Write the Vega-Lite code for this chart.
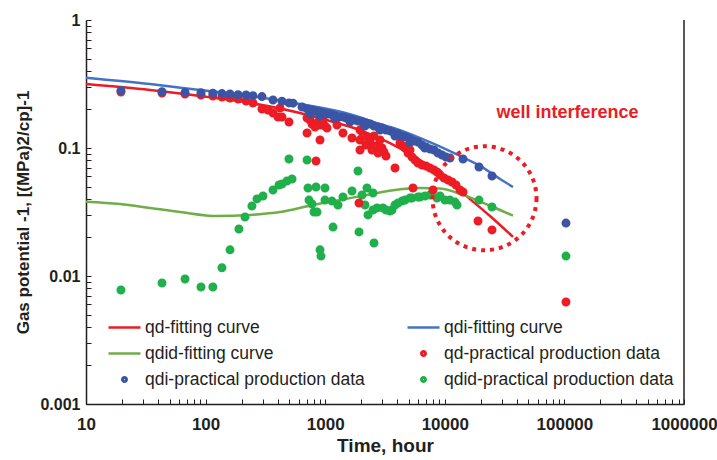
{
  "$schema": "https://vega.github.io/schema/vega-lite/v6.json",
  "width": 598,
  "height": 384,
  "autosize": {"type": "none"},
  "padding": {"left": 86, "top": 20, "right": 33, "bottom": 56},
  "background": "white",
  "view": {"stroke": null},
  "config": {
    "font": "Liberation Sans",
    "axis": {"grid": false},
    "legend": {
      "orient": "none",
      "legendX": 21,
      "legendY": 290,
      "columns": 2,
      "title": null,
      "labelFont": "Liberation Sans",
      "labelFontSize": 17.5,
      "labelColor": "#231f20",
      "labelLimit": 400,
      "labelOffset": 3,
      "symbolSize": 1024,
      "symbolStrokeWidth": 2.5,
      "columnPadding": 37,
      "rowPadding": -1
    }
  },
  "datasets": {
    "curves": [
      {"t": 10, "q": 0.354, "s": "qdi-fitting curve"},
      {"t": 34.3, "q": 0.316, "s": "qdi-fitting curve"},
      {"t": 89.8, "q": 0.284, "s": "qdi-fitting curve"},
      {"t": 235, "q": 0.255, "s": "qdi-fitting curve"},
      {"t": 615, "q": 0.221, "s": "qdi-fitting curve"},
      {"t": 1611, "q": 0.184, "s": "qdi-fitting curve"},
      {"t": 2871, "q": 0.154, "s": "qdi-fitting curve"},
      {"t": 4217, "q": 0.138, "s": "qdi-fitting curve"},
      {"t": 7516, "q": 0.111, "s": "qdi-fitting curve"},
      {"t": 13400, "q": 0.0866, "s": "qdi-fitting curve"},
      {"t": 19690, "q": 0.0724, "s": "qdi-fitting curve"},
      {"t": 28950, "q": 0.0573, "s": "qdi-fitting curve"},
      {"t": 37180, "q": 0.0496, "s": "qdi-fitting curve"},
      {"t": 10, "q": 0.316, "s": "qd-fitting curve"},
      {"t": 34.3, "q": 0.284, "s": "qd-fitting curve"},
      {"t": 89.8, "q": 0.255, "s": "qd-fitting curve"},
      {"t": 235, "q": 0.225, "s": "qd-fitting curve"},
      {"t": 615, "q": 0.1877, "s": "qd-fitting curve"},
      {"t": 1096, "q": 0.1625, "s": "qd-fitting curve"},
      {"t": 1954, "q": 0.138, "s": "qd-fitting curve"},
      {"t": 3483, "q": 0.1094, "s": "qd-fitting curve"},
      {"t": 6209, "q": 0.0806, "s": "qd-fitting curve"},
      {"t": 10050, "q": 0.0583, "s": "qd-fitting curve"},
      {"t": 14760, "q": 0.043, "s": "qd-fitting curve"},
      {"t": 23880, "q": 0.0294, "s": "qd-fitting curve"},
      {"t": 37180, "q": 0.0202, "s": "qd-fitting curve"},
      {"t": 10, "q": 0.0381, "s": "qdid-fitting curve"},
      {"t": 19.2, "q": 0.0365, "s": "qdid-fitting curve"},
      {"t": 34.3, "q": 0.034, "s": "qdid-fitting curve"},
      {"t": 61.1, "q": 0.0316, "s": "qdid-fitting curve"},
      {"t": 124.5, "q": 0.0294, "s": "qdid-fitting curve"},
      {"t": 235, "q": 0.0300, "s": "qdid-fitting curve"},
      {"t": 419, "q": 0.0316, "s": "qdid-fitting curve"},
      {"t": 791, "q": 0.0359, "s": "qdid-fitting curve"},
      {"t": 1330, "q": 0.0392, "s": "qdid-fitting curve"},
      {"t": 2234, "q": 0.043, "s": "qdid-fitting curve"},
      {"t": 3837, "q": 0.047, "s": "qdid-fitting curve"},
      {"t": 6209, "q": 0.0487, "s": "qdid-fitting curve"},
      {"t": 9120, "q": 0.0483, "s": "qdid-fitting curve"},
      {"t": 14190, "q": 0.043, "s": "qdid-fitting curve"},
      {"t": 25290, "q": 0.0346, "s": "qdid-fitting curve"},
      {"t": 37180, "q": 0.0296, "s": "qdid-fitting curve"}
    ],
    "points": [
      {"t": 19.6, "q": 0.00777, "s": "qdid-practical production data"},
      {"t": 43.2, "q": 0.00882, "s": "qdid-practical production data"},
      {"t": 67.3, "q": 0.00947, "s": "qdid-practical production data"},
      {"t": 91.5, "q": 0.0082, "s": "qdid-practical production data"},
      {"t": 115, "q": 0.0082, "s": "qdid-practical production data"},
      {"t": 137, "q": 0.0116, "s": "qdid-practical production data"},
      {"t": 160, "q": 0.016, "s": "qdid-practical production data"},
      {"t": 190, "q": 0.0233, "s": "qdid-practical production data"},
      {"t": 213.5, "q": 0.0289, "s": "qdid-practical production data"},
      {"t": 244, "q": 0.0352, "s": "qdid-practical production data"},
      {"t": 269, "q": 0.040, "s": "qdid-practical production data"},
      {"t": 302, "q": 0.0422, "s": "qdid-practical production data"},
      {"t": 366, "q": 0.047, "s": "qdid-practical production data"},
      {"t": 411, "q": 0.0514, "s": "qdid-practical production data"},
      {"t": 435, "q": 0.0523, "s": "qdid-practical production data"},
      {"t": 479, "q": 0.0552, "s": "qdid-practical production data"},
      {"t": 528, "q": 0.0573, "s": "qdid-practical production data"},
      {"t": 498, "q": 0.082, "s": "qdid-practical production data"},
      {"t": 705, "q": 0.0806, "s": "qdid-practical production data"},
      {"t": 718, "q": 0.0487, "s": "qdid-practical production data"},
      {"t": 838, "q": 0.0496, "s": "qdid-practical production data"},
      {"t": 996, "q": 0.0487, "s": "qdid-practical production data"},
      {"t": 732, "q": 0.0392, "s": "qdid-practical production data"},
      {"t": 776, "q": 0.0365, "s": "qdid-practical production data"},
      {"t": 806, "q": 0.0316, "s": "qdid-practical production data"},
      {"t": 854, "q": 0.0316, "s": "qdid-practical production data"},
      {"t": 996, "q": 0.0392, "s": "qdid-practical production data"},
      {"t": 1140, "q": 0.0385, "s": "qdid-practical production data"},
      {"t": 1279, "q": 0.0359, "s": "qdid-practical production data"},
      {"t": 1408, "q": 0.0414, "s": "qdid-practical production data"},
      {"t": 1675, "q": 0.0461, "s": "qdid-practical production data"},
      {"t": 1880, "q": 0.0661, "s": "qdid-practical production data"},
      {"t": 1162, "q": 0.0241, "s": "qdid-practical production data"},
      {"t": 905, "q": 0.016, "s": "qdid-practical production data"},
      {"t": 922, "q": 0.0143, "s": "qdid-practical production data"},
      {"t": 1917, "q": 0.0221, "s": "qdid-practical production data"},
      {"t": 2559, "q": 0.0181, "s": "qdid-practical production data"},
      {"t": 2031, "q": 0.0429, "s": "qdid-practical production data"},
      {"t": 2236, "q": 0.0487, "s": "qdid-practical production data"},
      {"t": 2510, "q": 0.0445, "s": "qdid-practical production data"},
      {"t": 2151, "q": 0.0359, "s": "qdid-practical production data"},
      {"t": 2280, "q": 0.030, "s": "qdid-practical production data"},
      {"t": 2510, "q": 0.0328, "s": "qdid-practical production data"},
      {"t": 2711, "q": 0.034, "s": "qdid-practical production data"},
      {"t": 3043, "q": 0.034, "s": "qdid-practical production data"},
      {"t": 3224, "q": 0.0328, "s": "qdid-practical production data"},
      {"t": 3482, "q": 0.0322, "s": "qdid-practical production data"},
      {"t": 3618, "q": 0.0328, "s": "qdid-practical production data"},
      {"t": 3834, "q": 0.0359, "s": "qdid-practical production data"},
      {"t": 4062, "q": 0.0372, "s": "qdid-practical production data"},
      {"t": 4386, "q": 0.0385, "s": "qdid-practical production data"},
      {"t": 4648, "q": 0.0392, "s": "qdid-practical production data"},
      {"t": 5117, "q": 0.0407, "s": "qdid-practical production data"},
      {"t": 5318, "q": 0.0407, "s": "qdid-practical production data"},
      {"t": 5968, "q": 0.0414, "s": "qdid-practical production data"},
      {"t": 6203, "q": 0.0414, "s": "qdid-practical production data"},
      {"t": 6830, "q": 0.0422, "s": "qdid-practical production data"},
      {"t": 7521, "q": 0.0429, "s": "qdid-practical production data"},
      {"t": 8605, "q": 0.0407, "s": "qdid-practical production data"},
      {"t": 9119, "q": 0.0422, "s": "qdid-practical production data"},
      {"t": 10040, "q": 0.0392, "s": "qdid-practical production data"},
      {"t": 11050, "q": 0.0392, "s": "qdid-practical production data"},
      {"t": 12170, "q": 0.0378, "s": "qdid-practical production data"},
      {"t": 12650, "q": 0.0359, "s": "qdid-practical production data"},
      {"t": 19320, "q": 0.0392, "s": "qdid-practical production data"},
      {"t": 24810, "q": 0.0346, "s": "qdid-practical production data"},
      {"t": 103100, "q": 0.0143, "s": "qdid-practical production data"},
      {"t": 19.6, "q": 0.274, "s": "qd-practical production data"},
      {"t": 43.2, "q": 0.269, "s": "qd-practical production data"},
      {"t": 67.3, "q": 0.264, "s": "qd-practical production data"},
      {"t": 91.5, "q": 0.2595, "s": "qd-practical production data"},
      {"t": 115, "q": 0.255, "s": "qd-practical production data"},
      {"t": 137, "q": 0.25, "s": "qd-practical production data"},
      {"t": 160, "q": 0.246, "s": "qd-practical production data"},
      {"t": 187, "q": 0.2415, "s": "qd-practical production data"},
      {"t": 218, "q": 0.233, "s": "qd-practical production data"},
      {"t": 249, "q": 0.2246, "s": "qd-practical production data"},
      {"t": 296, "q": 0.2017, "s": "qd-practical production data"},
      {"t": 332, "q": 0.198, "s": "qd-practical production data"},
      {"t": 366, "q": 0.1877, "s": "qd-practical production data"},
      {"t": 419, "q": 0.2054, "s": "qd-practical production data"},
      {"t": 403, "q": 0.1747, "s": "qd-practical production data"},
      {"t": 435, "q": 0.1747, "s": "qd-practical production data"},
      {"t": 498, "q": 0.1596, "s": "qd-practical production data"},
      {"t": 705, "q": 0.131, "s": "qd-practical production data"},
      {"t": 905, "q": 0.1155, "s": "qd-practical production data"},
      {"t": 838, "q": 0.0791, "s": "qd-practical production data"},
      {"t": 705, "q": 0.1715, "s": "qd-practical production data"},
      {"t": 746, "q": 0.1655, "s": "qd-practical production data"},
      {"t": 776, "q": 0.154, "s": "qd-practical production data"},
      {"t": 822, "q": 0.1459, "s": "qd-practical production data"},
      {"t": 871, "q": 0.1596, "s": "qd-practical production data"},
      {"t": 905, "q": 0.1512, "s": "qd-practical production data"},
      {"t": 958, "q": 0.1655, "s": "qd-practical production data"},
      {"t": 996, "q": 0.1485, "s": "qd-practical production data"},
      {"t": 1035, "q": 0.1433, "s": "qd-practical production data"},
      {"t": 1255, "q": 0.1512, "s": "qd-practical production data"},
      {"t": 1408, "q": 0.131, "s": "qd-practical production data"},
      {"t": 1675, "q": 0.1197, "s": "qd-practical production data"},
      {"t": 1954, "q": 0.1382, "s": "qd-practical production data"},
      {"t": 1954, "q": 0.1155, "s": "qd-practical production data"},
      {"t": 1954, "q": 0.0965, "s": "qd-practical production data"},
      {"t": 2070, "q": 0.1264, "s": "qd-practical production data"},
      {"t": 2193, "q": 0.1055, "s": "qd-practical production data"},
      {"t": 2280, "q": 0.1197, "s": "qd-practical production data"},
      {"t": 2369, "q": 0.1114, "s": "qd-practical production data"},
      {"t": 2462, "q": 0.0965, "s": "qd-practical production data"},
      {"t": 2559, "q": 0.1241, "s": "qd-practical production data"},
      {"t": 2659, "q": 0.1036, "s": "qd-practical production data"},
      {"t": 2764, "q": 0.0914, "s": "qd-practical production data"},
      {"t": 2872, "q": 0.1155, "s": "qd-practical production data"},
      {"t": 2985, "q": 0.100, "s": "qd-practical production data"},
      {"t": 3101, "q": 0.0931, "s": "qd-practical production data"},
      {"t": 3224, "q": 0.0866, "s": "qd-practical production data"},
      {"t": 3834, "q": 0.0698, "s": "qd-practical production data"},
      {"t": 4221, "q": 0.1094, "s": "qd-practical production data"},
      {"t": 4472, "q": 0.1036, "s": "qd-practical production data"},
      {"t": 4648, "q": 0.100, "s": "qd-practical production data"},
      {"t": 4924, "q": 0.0914, "s": "qd-practical production data"},
      {"t": 5117, "q": 0.0965, "s": "qd-practical production data"},
      {"t": 5318, "q": 0.0851, "s": "qd-practical production data"},
      {"t": 5634, "q": 0.0806, "s": "qd-practical production data"},
      {"t": 5968, "q": 0.0763, "s": "qd-practical production data"},
      {"t": 6447, "q": 0.0736, "s": "qd-practical production data"},
      {"t": 6964, "q": 0.0724, "s": "qd-practical production data"},
      {"t": 7521, "q": 0.0698, "s": "qd-practical production data"},
      {"t": 8123, "q": 0.0673, "s": "qd-practical production data"},
      {"t": 8605, "q": 0.0649, "s": "qd-practical production data"},
      {"t": 9119, "q": 0.0615, "s": "qd-practical production data"},
      {"t": 9846, "q": 0.0583, "s": "qd-practical production data"},
      {"t": 10640, "q": 0.0562, "s": "qd-practical production data"},
      {"t": 11490, "q": 0.0543, "s": "qd-practical production data"},
      {"t": 12400, "q": 0.0514, "s": "qd-practical production data"},
      {"t": 13400, "q": 0.047, "s": "qd-practical production data"},
      {"t": 14200, "q": 0.0453, "s": "qd-practical production data"},
      {"t": 5420, "q": 0.0487, "s": "qd-practical production data"},
      {"t": 7968, "q": 0.047, "s": "qd-practical production data"},
      {"t": 1917, "q": 0.0372, "s": "qd-practical production data"},
      {"t": 18950, "q": 0.0269, "s": "qd-practical production data"},
      {"t": 24810, "q": 0.0229, "s": "qd-practical production data"},
      {"t": 103100, "q": 0.00626, "s": "qd-practical production data"},
      {"t": 19.6, "q": 0.281, "s": "qdi-practical production data"},
      {"t": 43.2, "q": 0.275, "s": "qdi-practical production data"},
      {"t": 67.3, "q": 0.272, "s": "qdi-practical production data"},
      {"t": 91.5, "q": 0.270, "s": "qdi-practical production data"},
      {"t": 115, "q": 0.268, "s": "qdi-practical production data"},
      {"t": 137, "q": 0.266, "s": "qdi-practical production data"},
      {"t": 160, "q": 0.264, "s": "qdi-practical production data"},
      {"t": 187, "q": 0.261, "s": "qdi-practical production data"},
      {"t": 218, "q": 0.2595, "s": "qdi-practical production data"},
      {"t": 249, "q": 0.256, "s": "qdi-practical production data"},
      {"t": 296, "q": 0.252, "s": "qdi-practical production data"},
      {"t": 366, "q": 0.237, "s": "qdi-practical production data"},
      {"t": 435, "q": 0.232, "s": "qdi-practical production data"},
      {"t": 498, "q": 0.225, "s": "qdi-practical production data"},
      {"t": 538, "q": 0.224, "s": "qdi-practical production data"},
      {"t": 640, "q": 0.209, "s": "qdi-practical production data"},
      {"t": 705, "q": 0.202, "s": "qdi-practical production data"},
      {"t": 732, "q": 0.198, "s": "qdi-practical production data"},
      {"t": 750, "q": 0.184, "s": "qdi-practical production data"},
      {"t": 776, "q": 0.198, "s": "qdi-practical production data"},
      {"t": 806, "q": 0.195, "s": "qdi-practical production data"},
      {"t": 838, "q": 0.195, "s": "qdi-practical production data"},
      {"t": 871, "q": 0.191, "s": "qdi-practical production data"},
      {"t": 905, "q": 0.191, "s": "qdi-practical production data"},
      {"t": 905, "q": 0.178, "s": "qdi-practical production data"},
      {"t": 940, "q": 0.188, "s": "qdi-practical production data"},
      {"t": 977, "q": 0.188, "s": "qdi-practical production data"},
      {"t": 1035, "q": 0.184, "s": "qdi-practical production data"},
      {"t": 1097, "q": 0.184, "s": "qdi-practical production data"},
      {"t": 1162, "q": 0.181, "s": "qdi-practical production data"},
      {"t": 1200, "q": 0.1715, "s": "qdi-practical production data"},
      {"t": 1231, "q": 0.178, "s": "qdi-practical production data"},
      {"t": 1329, "q": 0.175, "s": "qdi-practical production data"},
      {"t": 1408, "q": 0.175, "s": "qdi-practical production data"},
      {"t": 1492, "q": 0.1715, "s": "qdi-practical production data"},
      {"t": 1613, "q": 0.1685, "s": "qdi-practical production data"},
      {"t": 1613, "q": 0.160, "s": "qdi-practical production data"},
      {"t": 1741, "q": 0.1655, "s": "qdi-practical production data"},
      {"t": 1880, "q": 0.1625, "s": "qdi-practical production data"},
      {"t": 2031, "q": 0.160, "s": "qdi-practical production data"},
      {"t": 2150, "q": 0.1485, "s": "qdi-practical production data"},
      {"t": 2193, "q": 0.157, "s": "qdi-practical production data"},
      {"t": 2369, "q": 0.154, "s": "qdi-practical production data"},
      {"t": 2559, "q": 0.1485, "s": "qdi-practical production data"},
      {"t": 2764, "q": 0.146, "s": "qdi-practical production data"},
      {"t": 2872, "q": 0.138, "s": "qdi-practical production data"},
      {"t": 2985, "q": 0.143, "s": "qdi-practical production data"},
      {"t": 3224, "q": 0.138, "s": "qdi-practical production data"},
      {"t": 3482, "q": 0.136, "s": "qdi-practical production data"},
      {"t": 3761, "q": 0.131, "s": "qdi-practical production data"},
      {"t": 3834, "q": 0.124, "s": "qdi-practical production data"},
      {"t": 4062, "q": 0.129, "s": "qdi-practical production data"},
      {"t": 4386, "q": 0.124, "s": "qdi-practical production data"},
      {"t": 4738, "q": 0.122, "s": "qdi-practical production data"},
      {"t": 5117, "q": 0.1176, "s": "qdi-practical production data"},
      {"t": 5117, "q": 0.111, "s": "qdi-practical production data"},
      {"t": 5526, "q": 0.1134, "s": "qdi-practical production data"},
      {"t": 5968, "q": 0.1114, "s": "qdi-practical production data"},
      {"t": 6447, "q": 0.1055, "s": "qdi-practical production data"},
      {"t": 6800, "q": 0.0998, "s": "qdi-practical production data"},
      {"t": 6964, "q": 0.1018, "s": "qdi-practical production data"},
      {"t": 7521, "q": 0.0982, "s": "qdi-practical production data"},
      {"t": 8123, "q": 0.0965, "s": "qdi-practical production data"},
      {"t": 8772, "q": 0.0914, "s": "qdi-practical production data"},
      {"t": 9476, "q": 0.0882, "s": "qdi-practical production data"},
      {"t": 10230, "q": 0.0851, "s": "qdi-practical production data"},
      {"t": 11050, "q": 0.0835, "s": "qdi-practical production data"},
      {"t": 14200, "q": 0.082, "s": "qdi-practical production data"},
      {"t": 19320, "q": 0.071, "s": "qdi-practical production data"},
      {"t": 24810, "q": 0.0604, "s": "qdi-practical production data"},
      {"t": 103100, "q": 0.0259, "s": "qdi-practical production data"}
    ],
    "note": [
      {"t": 21480, "q": 0.0405, "label": "well interference", "tx": 106000, "qy": 0.187}
    ],
    "frame": [
      {"t": 1000000}
    ]
  },
  "layer": [
    {
      "data": {"name": "curves"},
      "mark": {"type": "line", "strokeWidth": 2.5, "interpolate": "monotone"},
      "encoding": {
        "x": {
          "field": "t", "type": "quantitative",
          "scale": {"type": "log", "domain": [10, 1000000], "nice": false},
          "axis": {
            "title": "Time, hour",
            "values": [10,20,30,40,50,60,70,80,90,100,200,300,400,500,600,700,800,900,1000,2000,3000,4000,5000,6000,7000,8000,9000,10000,20000,30000,40000,50000,60000,70000,80000,90000,100000,200000,300000,400000,500000,600000,700000,800000,900000,1000000],
            "labelExpr": "indexof([10,100,1000,10000,100000,1000000], datum.value) >= 0 ? format(datum.value, 'd') : ''",
            "labelFlush": false,
            "labelOverlap": false,
            "labelBound": false,
            "labelFont": "Liberation Sans",
            "labelFontWeight": "bold",
            "labelFontSize": 17,
            "labelColor": "#231f20",
            "labelPadding": 17,
            "tickSize": -5,
            "tickColor": "#231f20",
            "tickWidth": 1,
            "domainColor": "#231f20",
            "domainWidth": 1.5,
            "titleFont": "Liberation Sans",
            "titleFontWeight": "bold",
            "titleFontSize": 19,
            "titleColor": "#231f20",
            "titlePadding": 4
          }
        },
        "y": {
          "field": "q", "type": "quantitative",
          "scale": {"type": "log", "domain": [0.001, 1], "nice": false},
          "axis": {
            "title": "Gas potential -1, [(MPa)2/cp]-1",
            "values": [0.001,0.002,0.003,0.004,0.005,0.006,0.007,0.008,0.009,0.01,0.02,0.03,0.04,0.05,0.06,0.07,0.08,0.09,0.1,0.2,0.3,0.4,0.5,0.6,0.7,0.8,0.9,1],
            "labelExpr": "indexof([0.001,0.01,0.1,1], datum.value) >= 0 ? format(datum.value, '~g') : ''",
            "labelFlush": false,
            "labelOverlap": false,
            "labelBound": false,
            "labelFont": "Liberation Sans",
            "labelFontWeight": "bold",
            "labelFontSize": 16,
            "labelColor": "#231f20",
            "labelPadding": 11,
            "tickSize": -5,
            "tickColor": "#231f20",
            "tickWidth": 1,
            "domainColor": "#231f20",
            "domainWidth": 1.5,
            "titleFont": "Liberation Sans",
            "titleFontWeight": "bold",
            "titleFontSize": 17,
            "titleColor": "#231f20",
            "titlePadding": 7
          }
        },
        "color": {
          "field": "s", "type": "nominal",
          "scale": {
            "domain": ["qd-fitting curve", "qdid-fitting curve", "qdi-practical production data", "qdi-fitting curve", "qd-practical production data", "qdid-practical production data"],
            "range": ["#ED1C24", "#70AD47", "#3B55A5", "#4472C4", "#ED1C24", "#1FB04B"]
          }
        }
      }
    },
    {
      "data": {"name": "points"},
      "mark": {"type": "point", "filled": false, "size": 2136, "strokeWidth": 2.5, "opacity": 1},
      "encoding": {
        "x": {"field": "t", "type": "quantitative"},
        "y": {"field": "q", "type": "quantitative"},
        "color": {"field": "s", "type": "nominal"},
        "shape": {
          "field": "s", "type": "nominal",
          "scale": {
            "domain": ["qd-fitting curve", "qdid-fitting curve", "qdi-practical production data", "qdi-fitting curve", "qd-practical production data", "qdid-practical production data"],
            "range": [
              "stroke",
              "stroke",
              "M-0.1406,0A0.1406,0.1406,0,1,1,0.1406,0A0.1406,0.1406,0,1,1,-0.1406,0ZM-0.045,0A0.045,0.045,0,1,1,0.045,0A0.045,0.045,0,1,1,-0.045,0Z",
              "stroke",
              "M-0.1406,0A0.1406,0.1406,0,1,1,0.1406,0A0.1406,0.1406,0,1,1,-0.1406,0ZM-0.045,0A0.045,0.045,0,1,1,0.045,0A0.045,0.045,0,1,1,-0.045,0Z",
              "M-0.1406,0A0.1406,0.1406,0,1,1,0.1406,0A0.1406,0.1406,0,1,1,-0.1406,0ZM-0.045,0A0.045,0.045,0,1,1,0.045,0A0.045,0.045,0,1,1,-0.045,0Z"
            ]
          }
        }
      }
    },
    {
      "data": {"name": "frame"},
      "mark": {"type": "rule", "color": "#231f20", "strokeWidth": 1.5},
      "encoding": {
        "x": {"field": "t", "type": "quantitative"}
      }
    },
    {
      "data": {"name": "note"},
      "mark": {"type": "point", "shape": "circle", "filled": false, "size": 10816, "stroke": "#ED1C24", "strokeWidth": 4, "strokeDash": [4, 5], "opacity": 1},
      "encoding": {
        "x": {"field": "t", "type": "quantitative"},
        "y": {"field": "q", "type": "quantitative"}
      }
    },
    {
      "data": {"name": "note"},
      "mark": {"type": "text", "font": "Liberation Sans", "fontWeight": "bold", "fontSize": 18, "color": "#ED1C24", "align": "center", "baseline": "middle"},
      "encoding": {
        "x": {"field": "tx", "type": "quantitative"},
        "y": {"field": "qy", "type": "quantitative"},
        "text": {"field": "label"}
      }
    }
  ]
}
